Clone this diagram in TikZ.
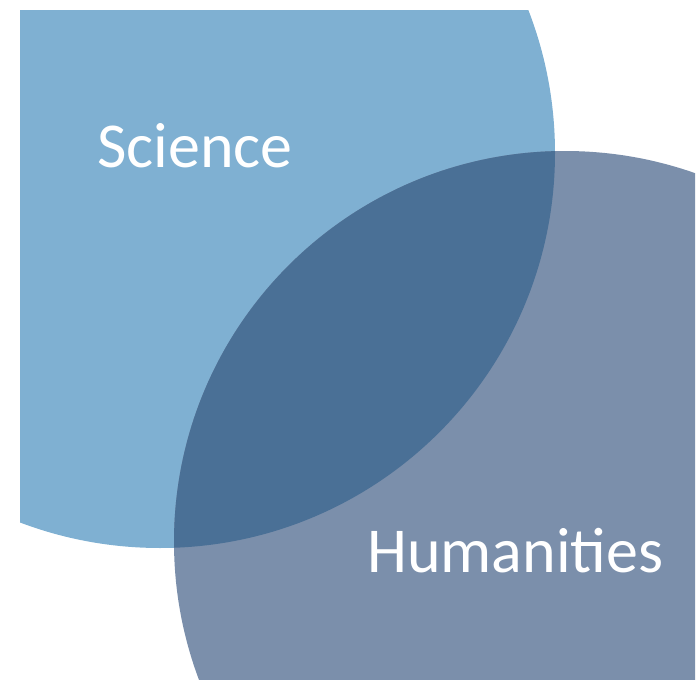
\documentclass[tikz,border=0pt]{standalone}
\usepackage{fontspec}
\setmainfont{Carlito}
\definecolor{sci}{RGB}{127,176,210}
\definecolor{hum}{RGB}{123,143,171}
\definecolor{both}{RGB}{74,112,150}
\begin{document}
\begin{tikzpicture}[x=1pt,y=-1pt,
  lbl/.style={text=white, font=\fontsize{64}{64}\selectfont, inner sep=0pt, anchor=base west}]
\useasboundingbox (0,0) rectangle (697,680);
\begin{scope}
  \clip (20,10) rectangle (697,680);
  \fill[sci] (160,153) circle[radius=395];
\end{scope}
\begin{scope}
  \clip (0,0) rectangle (695,680);
  \fill[hum] (565,542) circle[radius=391];
  \clip (565,542) circle[radius=391];
  \clip (20,10) rectangle (697,680);
  \fill[both] (160,153) circle[radius=395];
\end{scope}
\node[lbl] (science) at (97,167) {Science};
\node[lbl] (humanities) at (367,572) {Humanities};
\end{tikzpicture}
\end{document}
